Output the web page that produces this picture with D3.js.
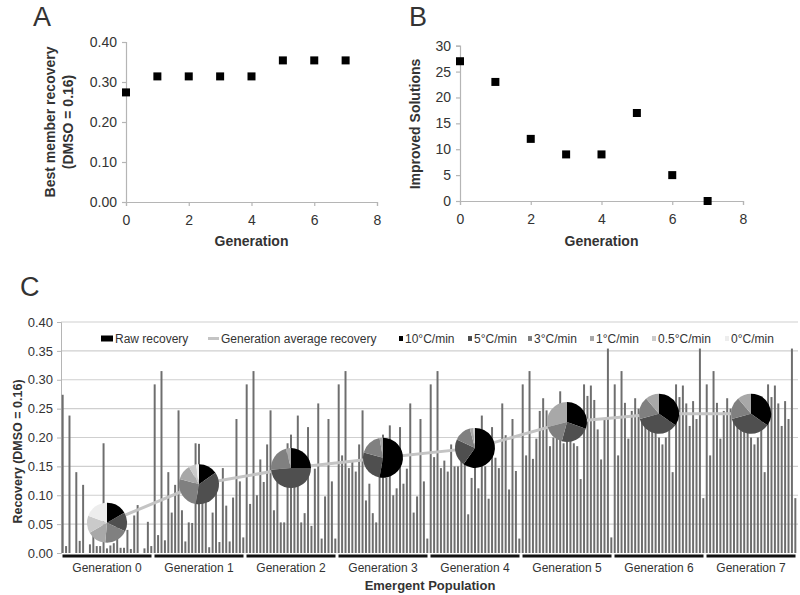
<!DOCTYPE html>
<html><head><meta charset="utf-8">
<script src="https://cdn.jsdelivr.net/npm/d3@7"></script>
<style>
body{margin:0;background:#fff}
text{font-family:"Liberation Sans",Arial,Helvetica,sans-serif;fill:#333}
</style>
</head><body>
<svg id="chart" width="800" height="595"></svg>
<script>
// ---------------- data ----------------
const generations = [0, 1, 2, 3, 4, 5, 6, 7];
const bestRecovery = [0.274, 0.314, 0.314, 0.314, 0.314, 0.354, 0.354, 0.354];
const improvedSolutions = [27, 23, 12, 9, 9, 17, 5, 0];
const genLabels = ["Generation 0","Generation 1","Generation 2","Generation 3","Generation 4","Generation 5","Generation 6","Generation 7"];
const genAverage = [0.0525, 0.119, 0.147, 0.165, 0.182, 0.227, 0.241, 0.241];

const raw0 = [0.274,0.012,0.238,0,0.14,0.021,0.118,0,0.015,0.03,0.012,0.012,0.19,0.008,0.013,0.017,0.05,0.009,0.009,0.04,0.007,0.065,0.083,0,0.008,0.054,0.012];
const raw1 = [0.292,0.031,0.315,0.022,0.14,0.07,0.118,0.247,0.074,0.02,0.053,0.052,0.19,0.189,0.13,0.11,0.01,0.07,0.108,0.019,0.147,0.082,0.02,0.096,0.232,0.124,0.027];
const raw2 = [0.292,0.085,0.315,0.1,0.162,0.123,0.188,0.247,0.074,0.14,0.053,0.053,0.19,0.205,0.115,0.238,0.053,0.069,0.218,0.047,0.146,0.259,0.025,0.098,0.232,0.124,0.025];
const raw3 = [0.292,0.169,0.315,0.147,0.16,0.141,0.188,0.247,0.091,0.12,0.069,0.053,0.15,0.205,0.13,0.221,0.1,0.112,0.218,0.12,0.146,0.259,0.07,0.098,0.232,0.124,0.025];
const raw4 = [0.292,0.166,0.315,0.147,0.16,0.141,0.188,0.15,0.15,0.162,0.155,0.067,0.13,0.19,0.112,0.238,0.15,0.094,0.218,0.165,0.147,0.259,0.204,0.11,0.232,0.142,0.025];
const raw5 = [0.292,0.169,0.315,0.163,0.198,0.246,0.268,0.247,0.185,0.2,0.21,0.28,0.19,0.2,0.195,0.19,0.185,0.128,0.292,0.272,0.29,0.265,0.214,0.162,0.232,0.354,0.027];
const raw6 = [0.292,0.169,0.315,0.26,0.198,0.246,0.268,0.25,0.23,0.22,0.215,0.225,0.21,0.2,0.188,0.2,0.23,0.14,0.292,0.27,0.29,0.259,0.22,0.263,0.232,0.354,0.095];
const raw7 = [0.292,0.169,0.315,0.26,0.198,0.246,0.268,0.25,0.23,0.22,0.215,0.225,0.21,0.2,0.188,0.2,0.23,0.14,0.292,0.27,0.29,0.259,0.22,0.263,0.232,0.354,0.095];

const rateLabels = ["10°C/min","5°C/min","3°C/min","1°C/min","0.5°C/min","0°C/min"];
const rateColors = ["#000000","#4f4f4f","#808080","#a8a8a8","#cacaca","#ededed"];
const share0 = [0.167,0.153,0.194,0.153,0.139,0.194];
const share1 = [0.153,0.375,0.264,0.125,0.055,0.028];
const share2 = [0.25,0.486,0.222,0.042,0,0];
const share3 = [0.528,0.264,0.18,0.028,0,0];
const share4 = [0.597,0.222,0.139,0.028,0.014,0];
const share5 = [0.306,0.236,0.167,0.291,0,0];
const share6 = [0.347,0.361,0.181,0.111,0,0];
const share7 = [0.347,0.361,0.181,0.111,0,0];

const yTicksA = [0, 0.1, 0.2, 0.3, 0.4];
const yTicksB = [0, 5, 10, 15, 20, 25, 30];
const xTicksAB = [0, 2, 4, 6, 8];
const yTicksC = [0, 0.05, 0.1, 0.15, 0.2, 0.25, 0.3, 0.35, 0.4];

// ---------------- drawing ----------------
const svg = d3.select("#chart");
const axisCol = "#b5b5b5";

function scatterPanel(opts){
  const g = svg.append("g");
  const x = d3.scaleLinear([0, 8], [opts.x0, opts.x1]);
  const y = d3.scaleLinear(opts.yDomain, [opts.y0, opts.y1]);
  const ya = d3.axisLeft(y).tickValues(opts.yTicks).tickSize(4).tickFormat(opts.fmt);
  const yg = g.append("g").attr("transform", `translate(${opts.x0},0)`).call(ya);
  const xa = d3.axisBottom(x).tickValues(xTicksAB).tickSize(4).tickFormat(d3.format("d"));
  const xg = g.append("g").attr("transform", `translate(0,${opts.y0})`).call(xa);
  [yg, xg].forEach(a => {
    a.selectAll("path,line").attr("stroke", axisCol).attr("stroke-width", 1.2);
    a.selectAll("text").style("font-size", "14px").attr("fill", "#333");
  });
  yg.selectAll("text").attr("x", -9);
  xg.selectAll("text").attr("y", 13);
  g.selectAll("rect.m").data(generations).join("rect")
    .attr("x", d => x(d) - 4).attr("y", (d, i) => y(opts.values[i]) - 4)
    .attr("width", 8).attr("height", 8).attr("fill", "#000");
  g.append("text").attr("x", (opts.x0 + opts.x1) / 2).attr("y", 246)
    .attr("text-anchor", "middle").style("font-size", "14px").style("font-weight", "bold").text("Generation");
  opts.yTitle.forEach((t, i) => {
    g.append("text").attr("transform", `translate(${opts.titleX[i]},${opts.titleY}) rotate(-90)`)
      .attr("text-anchor", "middle").style("font-size", "14px").style("font-weight", "bold").text(t);
  });
  g.append("text").attr("x", opts.letterX).attr("y", 26).style("font-size", "27px").attr("fill", "#222").text(opts.letter);
}

scatterPanel({x0:126, x1:377, y0:202, y1:42, yDomain:[0,0.4], yTicks:yTicksA, fmt:d3.format(".2f"),
  values:bestRecovery, yTitle:["Best member recovery","(DMSO = 0.16)"], titleX:[55,73], titleY:122, letter:"A", letterX:33});
scatterPanel({x0:460, x1:743, y0:201, y1:45.7, yDomain:[0,30], yTicks:yTicksB, fmt:d3.format("d"),
  values:improvedSolutions, yTitle:["Improved Solutions"], titleX:[420], titleY:124, letter:"B", letterX:409});

// ---------------- panel C ----------------
const rawAll = [raw0, raw1, raw2, raw3, raw4, raw5, raw6, raw7];
const shares = [share0, share1, share2, share3, share4, share5, share6, share7];
const bars = [];
rawAll.forEach((arr, gi) => arr.forEach((v, j) => bars.push({gen: gi, idx: bars.length, v})));

const cx0 = 61, cx1 = 797, cyTop = 322, cyBot = 553;
const yC = d3.scaleLinear([0, 0.4], [cyBot, cyTop]);
const xGen = d3.scaleBand(genLabels, [cx0, cx1]);
const xBar = d3.scaleBand(d3.range(bars.length), [cx0, cx1]).paddingInner(0.42).paddingOuter(0.2);
const gC = svg.append("g");

svg.append("text").attr("x", 20).attr("y", 296).style("font-size", "27px").attr("fill", "#222").text("C");

gC.append("g").selectAll("line").data(yTicksC.filter(d => d > 0)).join("line")
  .attr("x1", cx0).attr("x2", 798).attr("y1", d => yC(d)).attr("y2", d => yC(d))
  .attr("stroke", "#cfcfcf").attr("stroke-width", 1.2);
const yaC = gC.append("g").attr("transform", `translate(${cx0},0)`)
  .call(d3.axisLeft(yC).tickValues(yTicksC).tickSize(4).tickFormat(d3.format(".2f")));
yaC.selectAll("path,line").attr("stroke", axisCol);
yaC.selectAll("text").style("font-size", "13px").attr("fill", "#333").attr("x", -8);

gC.append("g").selectAll("rect").data(bars).join("rect")
  .attr("x", d => xBar(d.idx)).attr("width", xBar.bandwidth())
  .attr("y", d => yC(d.v)).attr("height", d => cyBot - yC(d.v))
  .attr("fill", "#6e6e6e");

gC.append("g").selectAll("line").data(genLabels).join("line")
  .attr("x1", d => xGen(d) + 1.5).attr("x2", d => xGen(d) + xGen.bandwidth() - 1.5)
  .attr("y1", 556).attr("y2", 556).attr("stroke", "#111").attr("stroke-width", 3);
gC.append("g").selectAll("text").data(genLabels).join("text")
  .attr("x", d => xGen(d) + xGen.bandwidth() / 2).attr("y", 572)
  .attr("text-anchor", "middle").style("font-size", "12px").text(d => d);
svg.append("text").attr("x", 430).attr("y", 590).attr("text-anchor", "middle")
  .style("font-size", "13px").style("font-weight", "bold").text("Emergent Population");
svg.append("text").attr("transform", `translate(22,${(cyTop + cyBot) / 2 + 14}) rotate(-90)`)
  .attr("text-anchor", "middle").style("font-size", "12.5px").style("font-weight", "bold")
  .text("Recovery  (DMSO = 0.16)");

const centers = genLabels.map((d, i) => [xGen(d) + xGen.bandwidth() / 2, yC(genAverage[i])]);
gC.append("path").attr("d", d3.line()(centers)).attr("fill", "none")
  .attr("stroke", "#c4c4c4").attr("stroke-width", 3);

const pie = d3.pie().sort(null).value(d => d);
const arc = d3.arc().innerRadius(0).outerRadius(20);
centers.forEach((c, i) => {
  gC.append("g").attr("transform", `translate(${c[0]},${c[1]})`)
    .selectAll("path").data(pie(shares[i])).join("path")
    .attr("d", arc).attr("fill", (d, k) => rateColors[k]);
});

const lg = svg.append("g");
const ly = 338.5;
lg.append("rect").attr("x", 101).attr("y", ly - 3).attr("width", 12).attr("height", 6).attr("fill", "#000");
lg.append("text").attr("x", 115).attr("y", ly + 4.5).style("font-size", "12px").text("Raw recovery");
lg.append("line").attr("x1", 208).attr("x2", 219).attr("y1", ly).attr("y2", ly).attr("stroke", "#c4c4c4").attr("stroke-width", 3);
lg.append("text").attr("x", 221).attr("y", ly + 4.5).style("font-size", "12px").text("Generation average recovery");
const legX = [399, 468, 528, 590, 652, 725];
rateLabels.forEach((t, k) => {
  lg.append("rect").attr("x", legX[k]).attr("y", ly - 2.5).attr("width", 4).attr("height", 5).attr("fill", rateColors[k]);
  lg.append("text").attr("x", legX[k] + 6).attr("y", ly + 4.5).style("font-size", "12px").text(t);
});
</script>
</body></html>
